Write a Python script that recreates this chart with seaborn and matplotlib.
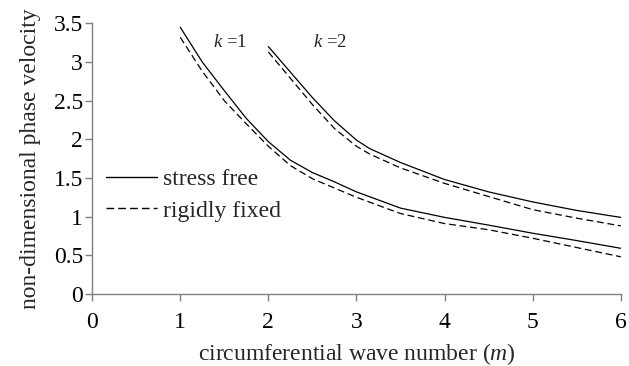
import matplotlib
matplotlib.use("Agg")
import matplotlib.pyplot as plt
import pandas as pd
import seaborn as sns

# circumferential wave number m and phase velocity for each mode k
m_k1 = [1, 1.25, 1.5, 1.75, 2, 2.25, 2.5, 2.75, 3, 3.5, 4, 4.5, 5, 5.5, 6]
free_k1 = [3.45, 3.0, 2.63, 2.27, 1.97, 1.73, 1.57, 1.45, 1.32, 1.11, 0.99, 0.89, 0.785, 0.69, 0.59]
fixed_k1 = [3.32, 2.88, 2.5, 2.2, 1.91, 1.66, 1.49, 1.37, 1.25, 1.04, 0.91, 0.83, 0.72, 0.60, 0.48]

m_k2 = [2, 2.5, 2.75, 3, 3.15, 3.5, 4, 4.5, 5, 5.5, 6]
free_k2 = [3.2, 2.54, 2.24, 1.99, 1.88, 1.70, 1.48, 1.32, 1.19, 1.08, 0.99]
fixed_k2 = [3.13, 2.45, 2.14, 1.91, 1.81, 1.63, 1.43, 1.26, 1.09, 0.98, 0.88]

support_labels = ["stress free", "rigidly fixed"]
x_ticks = [0, 1, 2, 3, 4, 5, 6]
y_ticks = [0, 0.5, 1, 1.5, 2, 2.5, 3, 3.5]

rows = []
for k, ms, free, fixed in [(1, m_k1, free_k1, fixed_k1), (2, m_k2, free_k2, fixed_k2)]:
    for label, vals in zip(support_labels, [free, fixed]):
        for mi, vi in zip(ms, vals):
            rows.append({"m": mi, "v": vi, "support": label, "k": k})
df = pd.DataFrame(rows)

sns.set_style("ticks")
plt.rcParams["font.family"] = ["Liberation Serif", "DejaVu Serif"]
plt.rcParams["mathtext.fontset"] = "custom"
plt.rcParams["mathtext.it"] = "Liberation Serif:italic"
plt.rcParams["mathtext.rm"] = "Liberation Serif"

FS = 17

fig = plt.figure(figsize=(6.29, 3.66), dpi=100)
ax = fig.add_axes([0.1465, 0.197, 0.8405, 0.739])

sns.lineplot(
    data=df, x="m", y="v", style="support", units="k", estimator=None,
    style_order=support_labels, dashes={"stress free": "", "rigidly fixed": (5.5, 3)},
    color="black", linewidth=0.9, ax=ax,
)

ax.set_xlim(0, 6)
ax.set_ylim(0, 3.5)
ax.set_xticks(x_ticks)
ax.set_xticklabels([str(t) for t in x_ticks])
ax.set_yticks(y_ticks)
ax.set_yticklabels([f"{t:g}" for t in y_ticks])
for side in ["top", "right"]:
    ax.spines[side].set_visible(False)
for side in ["left", "bottom"]:
    ax.spines[side].set_color("#808080")
    ax.spines[side].set_linewidth(1.0)
ax.tick_params(axis="both", colors="#808080", labelcolor="black", length=5, width=1.0,
               labelsize=FS)
ax.tick_params(axis="x", pad=8)
ax.tick_params(axis="y", pad=1.5)

ax.set_xlabel("circumferential wave number ($m$)", fontsize=FS, labelpad=6)
ax.set_ylabel("non-dimensional phase velocity", fontsize=FS, labelpad=9)

ax.text(1.37, 3.25, "$k$ =1", fontsize=13.5, va="center", ha="left")
ax.text(2.51, 3.25, "$k$ =2", fontsize=13.5, va="center", ha="left")

leg = ax.legend(loc="center left", bbox_to_anchor=(0.0265, 0.365), frameon=False, fontsize=FS,
                handlelength=2.16, handletextpad=0.25, labelspacing=0.42,
                borderaxespad=0, borderpad=0)
for line in leg.get_lines():
    line.set_linewidth(1.0)

fig.savefig("out.png", dpi=100)
